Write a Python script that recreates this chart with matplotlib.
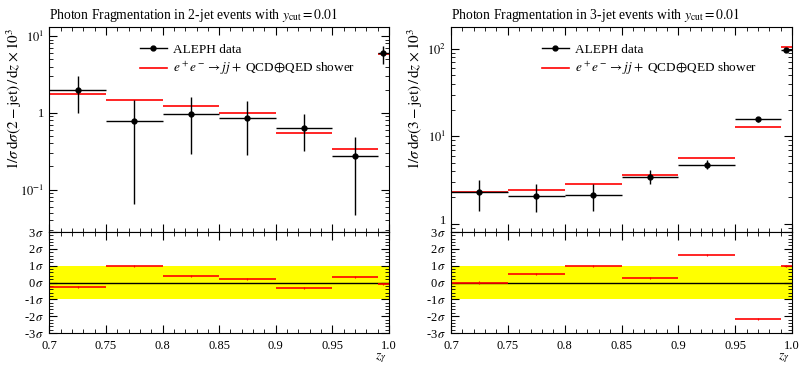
import numpy as np
import matplotlib
matplotlib.use("Agg")
import matplotlib.pyplot as plt
from matplotlib.lines import Line2D
from matplotlib.ticker import MultipleLocator, LogLocator, FuncFormatter, NullFormatter

plt.rcParams['font.family'] = ['Liberation Serif', 'DejaVu Serif']
plt.rcParams['mathtext.fontset'] = 'stix'

# bin edges
edges = [0.7, 0.75, 0.8, 0.85, 0.9, 0.95, 0.99, 1.0]
centers = [0.725, 0.775, 0.825, 0.875, 0.925, 0.97, 0.995]

# 2-jet
data2 = [2.01, 0.78, 0.96, 0.85, 0.64, 0.27, 5.94]
data2_up = [3.04, 1.49, 1.62, 1.42, 0.96, 0.49, 7.4]
data2_dn = [1.0, 0.064, 0.295, 0.286, 0.316, 0.046, 4.27]
mc2 = [1.75, 1.46, 1.23, 0.99, 0.55, 0.34, 5.8]
pull2 = [-0.28, 0.97, 0.40, 0.23, -0.30, 0.30, -0.10]

# 3-jet
data3 = [2.31, 2.06, 2.15, 3.44, 4.72, 15.7, 98.0]
data3_up = [3.18, 2.81, 2.83, 4.10, 5.35, 16.8, 103.0]
data3_dn = [1.41, 1.34, 1.41, 2.81, 4.17, 14.4, 93.0]
mc3 = [2.31, 2.44, 2.86, 3.60, 5.69, 12.7, 105.0]
pull3 = [0.0, 0.50, 0.98, 0.24, 1.65, -2.15, 0.98]

titles = [r"Photon Fragmentation in 2-jet events with $y_\mathrm{cut}=0.01$",
          r"Photon Fragmentation in 3-jet events with $y_\mathrm{cut}=0.01$"]
ylabels = [r"$1/\sigma\,\mathrm{d}\sigma(2-\mathrm{jet})\,/\,\mathrm{d}z\times10^3$",
           r"$1/\sigma\,\mathrm{d}\sigma(3-\mathrm{jet})\,/\,\mathrm{d}z\times10^3$"]
ylims = [(0.028, 13.0), (0.8, 177.0)]

W, H = 801, 365
fig = plt.figure(figsize=(W/100, H/100), dpi=100)

panels = [(49.3, 389.0), (451.0, 792.0)]
ylab_x = [14.0, 415.0]
ytop, ymid, ybot = 27.3, 232.0, 333.0

def fx(x): return x / W
def fy(y): return 1 - y / H

def style_ticks(ax):
    ax.tick_params(which='both', direction='in', top=True, right=True, labelsize=9)
    ax.tick_params(which='major', length=6, width=0.8)
    ax.tick_params(which='minor', length=3, width=0.6)

def pm_fmt(v, pos):
    iv = int(round(v))
    s = "-%d" % abs(iv) if iv < 0 else "%d" % iv
    return s + r"$\,\sigma$"

def make_log_fmt(skip_unity):
    def log_fmt(v, pos):
        e = int(round(np.log10(v)))
        if e == 0:
            return "" if skip_unity else "1"
        return r"$10^{%d}$" % e
    return log_fmt

datasets = [(data2, data2_up, data2_dn, mc2, pull2), (data3, data3_up, data3_dn, mc3, pull3)]

for i, ((x0, x1), (d, du, dd, mc, pl)) in enumerate(zip(panels, datasets)):
    axm = fig.add_axes([fx(x0), fy(ymid), fx(x1) - fx(x0), fy(ytop) - fy(ymid)])
    axr = fig.add_axes([fx(x0), fy(ybot), fx(x1) - fx(x0), fy(ymid) - fy(ybot)], sharex=axm)

    d = np.array(d); du = np.array(du); dd = np.array(dd)
    lo = np.array(edges[:-1]); hi = np.array(edges[1:]); c = np.array(centers)
    # MC
    axm.hlines(mc, lo, hi, colors='red', lw=1.2, zorder=2)
    # data
    axm.hlines(d, lo, hi, colors='black', lw=1.0, zorder=3)
    axm.errorbar(c, d, yerr=[d - dd, du - d], fmt='o', color='black', ms=3.5,
                 lw=1.0, capsize=0, zorder=4)
    axm.set_yscale('log')
    axm.set_ylim(*ylims[i])
    axm.set_xlim(0.7, 1.0)
    axm.yaxis.set_major_locator(LogLocator(base=10, numticks=10))
    axm.yaxis.set_minor_locator(LogLocator(base=10, subs=np.arange(2, 10), numticks=20))
    axm.yaxis.set_major_formatter(FuncFormatter(make_log_fmt(i == 1)))
    axm.yaxis.set_minor_formatter(NullFormatter())
    axm.xaxis.set_major_locator(MultipleLocator(0.05))
    axm.xaxis.set_minor_locator(MultipleLocator(0.01))
    style_ticks(axm)
    plt.setp(axm.get_xticklabels(), visible=False)
    if i == 1:
        # unity label sits just above the ratio panel; lift it a little
        axm.annotate("1", xy=(0, 1.0), xycoords=('axes fraction', 'data'),
                     xytext=(-3.5, 1.5), textcoords='offset points',
                     ha='right', va='center', fontsize=9)
    axm.set_title(titles[i], loc='left', fontsize=9.8, pad=6)
    fig.text(fx(ylab_x[i]), fy(ytop + 1), ylabels[i], rotation=90,
             ha='center', va='top', fontsize=11)

    # legend
    h1 = Line2D([], [], color='black', marker='o', ms=3.5, lw=1.0)
    h2 = Line2D([], [], color='red', lw=1.2)
    axm.legend([h1, h2], ["ALEPH data", r"$e^+e^-\to jj+$ QCD$\oplus$QED shower"],
               loc='upper left', bbox_to_anchor=(0.25, 0.945), frameon=False,
               fontsize=9.5, handlelength=2.1, handletextpad=0.45,
               labelspacing=0.3, borderaxespad=0)

    # ratio
    axr.axhspan(-1, 1, color='yellow', lw=0, zorder=0)
    axr.axhline(0, color='black', lw=1.0, zorder=1)
    axr.hlines(pl, lo, hi, colors='red', lw=1.2, zorder=2)
    axr.errorbar(c, pl, yerr=0.06, fmt='none', ecolor='red', lw=0.8, zorder=3)
    axr.set_ylim(-3, 3)
    axr.yaxis.set_major_locator(MultipleLocator(1))
    axr.yaxis.set_minor_locator(MultipleLocator(0.2))
    axr.yaxis.set_major_formatter(FuncFormatter(pm_fmt))
    axr.xaxis.set_major_formatter(FuncFormatter(lambda v, p: ("%g" % round(v, 3)) if abs(v - 1.0) > 1e-6 else "1.0"))
    style_ticks(axr)
    axr.tick_params(axis='x', which='major', pad=5)
    fig.text(fx(x1 - 2), fy(358), r"$z_\gamma$", ha='right', va='center', fontsize=10)

fig.savefig("out.png", dpi=100)
